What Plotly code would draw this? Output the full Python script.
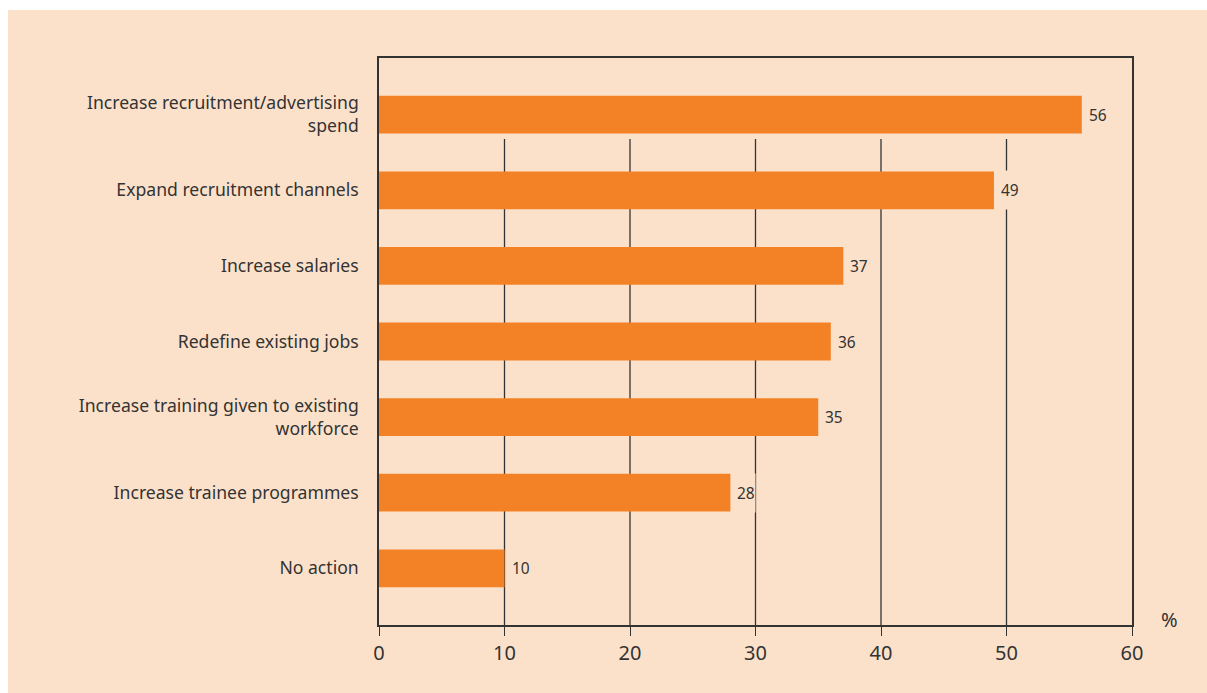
import plotly.graph_objects as go

# Survey responses: actions taken to address recruitment difficulties (%)
categories = [
    "Increase recruitment/advertising<br>spend",
    "Expand recruitment channels",
    "Increase salaries",
    "Redefine existing jobs",
    "Increase training given to existing<br>workforce",
    "Increase trainee programmes",
    "No action",
]
values = [56, 49, 37, 36, 35, 28, 10]
x_ticks = [0, 10, 20, 30, 40, 50, 60]
grid_values = [10, 20, 30, 40, 50]

PEACH = "#FCE1CA"
ORANGE = "#F38226"
INK = "#333333"
FONT = "Noto Sans"

fig = go.Figure(
    go.Bar(
        x=values,
        y=categories,
        orientation="h",
        marker=dict(color=ORANGE, line=dict(width=0)),
        width=0.5,
        hoverinfo="skip",
    )
)

# vertical gridlines, stopping short of the top bar
shapes = [
    dict(type="line", xref="x", yref="y domain", x0=g, x1=g, y0=0, y1=0.857,
         line=dict(color=INK, width=1.3), layer="below")
    for g in grid_values
]
# white margin strips around the peach panel
shapes += [
    dict(type="rect", xref="paper", yref="paper", x0=-0.6, x1=1.2, y0=1.0847, y1=1.2,
         fillcolor="white", line=dict(width=0), layer="above"),
    dict(type="rect", xref="paper", yref="paper", x0=-0.6, x1=-0.4927, y0=-0.2, y1=1.2,
         fillcolor="white", line=dict(width=0), layer="above"),
]

annotations = [
    dict(x=v, y=c, xref="x", yref="y", text=str(v), showarrow=False,
         xanchor="left", xshift=6, height=38, bgcolor=PEACH, borderpad=0,
         font=dict(family=FONT, size=15.5, color=INK))
    for c, v in zip(categories, values)
]
annotations.append(
    dict(x=1.05, y=0.01, xref="paper", yref="paper", text="%", showarrow=False,
         xanchor="center", yanchor="middle",
         font=dict(family=FONT, size=20, color=INK))
)

fig.update_layout(
    width=1207,
    height=693,
    margin=dict(l=379, r=75, t=58, b=68),
    paper_bgcolor=PEACH,
    plot_bgcolor=PEACH,
    showlegend=False,
    shapes=shapes,
    annotations=annotations,
    font=dict(family=FONT, color=INK),
    xaxis=dict(
        range=[0, 60],
        tickvals=x_ticks,
        ticks="outside",
        ticklen=9,
        tickwidth=1.3,
        tickcolor=INK,
        showgrid=False,
        zeroline=False,
        showline=True,
        linecolor=INK,
        linewidth=1.5,
        mirror=True,
        tickfont=dict(family=FONT, size=20, color=INK),
        fixedrange=True,
    ),
    yaxis=dict(
        range=[6.75, -0.75],
        showgrid=False,
        zeroline=False,
        showline=True,
        linecolor=INK,
        linewidth=1.5,
        mirror=True,
        ticks="",
        ticklabelstandoff=15,
        tickfont=dict(family=FONT, size=17.6, color=INK),
        fixedrange=True,
    ),
    bargap=0.5,
)

fig.write_html("out.html", config=dict(displayModeBar=False))
